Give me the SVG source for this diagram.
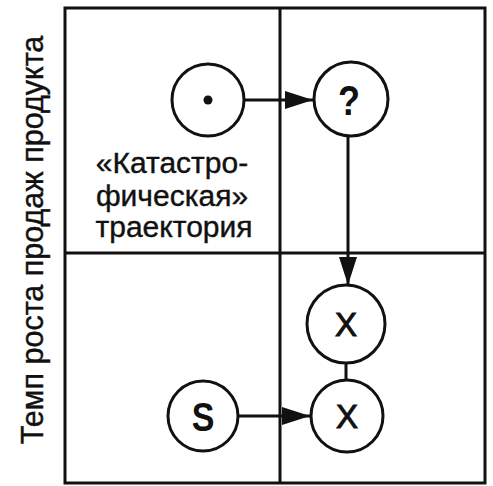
<svg xmlns="http://www.w3.org/2000/svg" width="493" height="486" viewBox="0 0 493 486">
<style>
.frame{fill:none;stroke:#111;stroke-width:3}
.node{fill:#fff;stroke:#111;stroke-width:3}
.conn{stroke:#111;stroke-width:3;fill:none}
.lbl{font-family:"Liberation Sans",Arial,sans-serif;fill:#111;stroke:#111;stroke-width:0.4}
.sym{font-family:"Liberation Sans",Arial,sans-serif;fill:#111;text-anchor:middle}
</style>
<defs>
<marker id="arr" markerUnits="userSpaceOnUse" markerWidth="28" markerHeight="18" refX="28" refY="9" orient="auto">
<path d="M0,0 L28,9 L0,18 z" fill="#111"/>
</marker>
</defs>
<rect width="493" height="486" fill="#fff"/>
<g id="grid">
<rect class="frame" x="65" y="8" width="420" height="475"/>
<line class="frame" x1="280" y1="8" x2="280" y2="483"/>
<line class="frame" x1="65" y1="253" x2="485" y2="253"/>
</g>
<text class="lbl" font-size="30.5" text-anchor="middle" transform="translate(43,240) rotate(-90)">Темп роста продаж продукта</text>
<g id="label">
<text class="lbl" font-size="30" text-anchor="middle" x="172" y="173">«Катастро-</text>
<text class="lbl" font-size="30" text-anchor="middle" x="172" y="206">фическая»</text>
<text class="lbl" font-size="30" text-anchor="middle" x="174" y="237">траектория</text>
</g>
<g id="connectors">
<line class="conn" x1="245" y1="100" x2="313" y2="100" marker-end="url(#arr)"/>
<line class="conn" x1="348" y1="137" x2="348" y2="285" marker-end="url(#arr)"/>
<line class="conn" x1="346" y1="362" x2="346" y2="380"/>
<line class="conn" x1="239" y1="416" x2="310" y2="416" marker-end="url(#arr)"/>
</g>
<g id="node-dot">
<circle class="node" cx="208" cy="100" r="36"/>
<circle cx="208" cy="100" r="4.5" fill="#111"/>
</g>
<g id="node-q">
<circle class="node" cx="351" cy="99" r="37"/>
<text class="sym" font-size="36" font-weight="bold" transform="translate(349,115) scale(1,1.2)">?</text>
</g>
<g id="node-x1">
<circle class="node" cx="346" cy="324" r="39"/>
<text class="sym" font-size="33" stroke="#111" stroke-width="1" x="346" y="336">X</text>
</g>
<g id="node-x2">
<circle class="node" cx="347" cy="416" r="36"/>
<text class="sym" font-size="33" stroke="#111" stroke-width="1" x="347" y="428">X</text>
</g>
<g id="node-s">
<circle class="node" cx="203" cy="416" r="35"/>
<text class="sym" font-size="34" font-weight="bold" transform="translate(203,431) scale(1,1.22)">S</text>
</g>
</svg>
